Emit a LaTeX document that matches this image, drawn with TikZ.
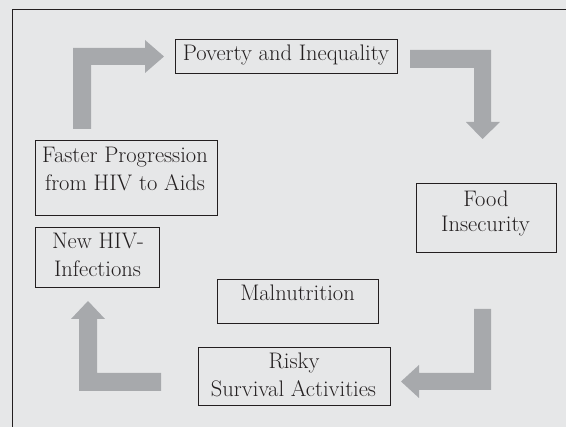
\documentclass[tikz,border=0pt]{standalone}
\usepackage{fontspec}
\setmainfont{Latin Modern Roman}
\definecolor{bg}{HTML}{E6E7E8}
\definecolor{arr}{HTML}{A7A9AC}
\definecolor{ink}{HTML}{231F20}
\begin{document}
\begin{tikzpicture}[x=1pt,y=-1pt,
  box/.style={draw=ink, line width=0.9pt, inner sep=0pt, anchor=north west},
  txt/.style={text=ink, font=\fontsize{22.5}{28}\selectfont, align=center, inner sep=0pt, anchor=base},
  blockarrow/.style={fill=arr, draw=none}]
\fill[bg] (0,0) rectangle (566,427);
\useasboundingbox (0,0) rectangle (566,427);
\draw[ink, line width=1.3pt] (12.5,427) -- (12.5,9.5) -- (566,9.5);
% boxes
\node[box, minimum width=222pt, minimum height=34pt] (pov) at (175,39) {};
\node[box, minimum width=182pt, minimum height=75pt] (fast) at (35,140) {};
\node[box, minimum width=124pt, minimum height=60pt] (newhiv) at (35,227) {};
\node[box, minimum width=161pt, minimum height=44pt] (maln) at (217,279) {};
\node[box, minimum width=192pt, minimum height=58pt] (risky) at (198,347) {};
\node[box, minimum width=140pt, minimum height=69pt] (food) at (416,183) {};
% texts
\node[txt] (povt) at (286,61) {Poverty and Inequality};
\node[txt] (fastt1) at (125,163) {Faster Progression};
\node[txt] (fastt2) at (125,191) {from HIV to Aids};
\node[txt] (newt1) at (98,249) {New HIV-};
\node[txt] (newt2) at (97.5,277) {Infections};
\node[txt] (malt) at (297.5,301) {Malnutrition};
\node[txt] (riskt1) at (294,369) {Risky};
\node[txt] (riskt2) at (293.5,397) {Survival Activities};
\node[txt] (foodt1) at (486,207) {Food};
\node[txt] (foodt2) at (485.5,232) {Insecurity};
% block arrows
\fill[blockarrow] (73,129) -- (73,48) -- (145,48) -- (145,40) -- (164,56.5) -- (145,73) -- (145,65) -- (91,65) -- (91,129) -- cycle;
\fill[blockarrow] (410,50) -- (491,50) -- (491,122) -- (500,122) -- (482.5,139) -- (466,122) -- (474,122) -- (474,68) -- (410,68) -- cycle;
\fill[blockarrow] (491,309) -- (491,390) -- (419,390) -- (419,398) -- (401,381.5) -- (419,365) -- (419,373) -- (474,373) -- (474,309) -- cycle;
\fill[blockarrow] (161,373) -- (161,391) -- (79,391) -- (79,319) -- (71,319) -- (88,301) -- (105,319) -- (97,319) -- (97,373) -- cycle;
\end{tikzpicture}
\end{document}
